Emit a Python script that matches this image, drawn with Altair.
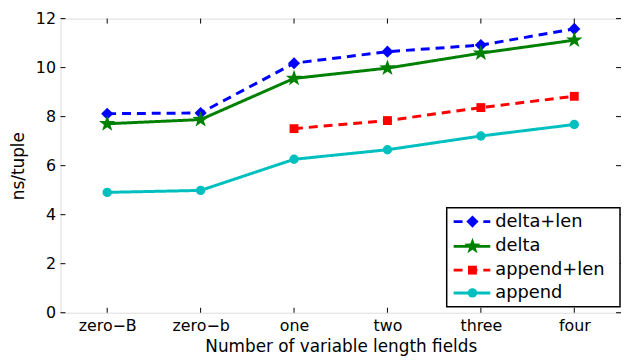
import math
import altair as alt
import pandas as pd

# ---- data ----
categories = ["zero\u2212B", "zero\u2212b", "one", "two", "three", "four"]
delta_len = [8.12, 8.15, 10.18, 10.65, 10.92, 11.58]
delta = [7.71, 7.88, 9.56, 9.98, 10.59, 11.12]
append_len = [None, None, 7.51, 7.84, 8.37, 8.83]
append_ = [4.91, 4.99, 6.26, 6.65, 7.21, 7.68]
series_names = ["delta+len", "delta", "append+len", "append"]
series_values = [delta_len, delta, append_len, append_]
y_ticks = [0, 2, 4, 6, 8, 10, 12]

# ---- styles ----
W, H = 566, 297
FONT = "DejaVu Sans"

pts = []
for i in range(10):
    r = 1.0 if i % 2 == 0 else 0.4
    a = math.radians(-90 + 36 * i)
    pts.append(f"{r * math.cos(a):.3f},{r * math.sin(a):.3f}")
STAR = "M" + " L".join(pts) + " Z"

styles = {
    "delta+len": dict(color="#0000ff", dash=[9, 6], shape="diamond", size=150),
    "delta": dict(color="#008000", dash=[1, 0], shape=STAR, size=300),
    "append+len": dict(color="#ff0000", dash=[9, 6], shape="square", size=80),
    "append": dict(color="#00bfbf", dash=[1, 0], shape="circle", size=90),
}

rows = []
for name, vals in zip(series_names, series_values):
    for c, v in zip(categories, vals):
        if v is not None:
            rows.append({"cat": c, "val": v, "series": name})
df = pd.DataFrame(rows)

xscale = alt.Scale(type="point", domain=categories, padding=0.5)
yscale = alt.Scale(domain=[0, 12], nice=False, zero=True)

X = alt.X("cat:N", scale=xscale, sort=categories,
          axis=alt.Axis(title="Number of variable length fields", labelAngle=0,
                        ticks=False, tickSize=0, domain=False, grid=False,
                        labelPadding=5, labelFontSize=16, labelFont=FONT,
                        labelColor="black", titleFont=FONT, titleFontSize=17,
                        titleFontWeight="normal", titleColor="black",
                        titleX=W / 2, titleY=39, titleBaseline="alphabetic"))
Y = alt.Y("val:Q", scale=yscale,
          axis=alt.Axis(title="ns/tuple", values=y_ticks, ticks=False, tickSize=0,
                        domain=False, grid=False, labelPadding=5,
                        labelFontSize=16, labelFont=FONT, labelColor="black",
                        titleFont=FONT, titleFontSize=17, titleFontWeight="normal",
                        titleColor="black", titleX=-42, titleY=H / 2,
                        titleBaseline="middle"))

base = alt.Chart(df)
layers = []
for name in series_names:
    st = styles[name]
    sub = base.transform_filter(alt.datum.series == name)
    layers.append(sub.mark_line(color=st["color"], strokeWidth=3,
                                strokeDash=st["dash"]).encode(x=X, y=Y))
    layers.append(sub.mark_point(shape=st["shape"], size=st["size"], filled=True,
                                 color=st["color"], opacity=1).encode(x=X, y=Y))

# inward ticks on all four sides
xt = alt.Chart(pd.DataFrame({"cat": categories}))
layers.append(xt.mark_rule(color="black", strokeWidth=1).encode(
    x=alt.X("cat:N", scale=xscale, sort=categories), y=alt.value(H), y2=alt.value(H - 5)))
layers.append(xt.mark_rule(color="black", strokeWidth=1).encode(
    x=alt.X("cat:N", scale=xscale, sort=categories), y=alt.value(0), y2=alt.value(5)))
yt = alt.Chart(pd.DataFrame({"val": y_ticks}))
layers.append(yt.mark_rule(color="black", strokeWidth=1).encode(
    y=alt.Y("val:Q", scale=yscale), x=alt.value(0), x2=alt.value(5)))
layers.append(yt.mark_rule(color="black", strokeWidth=1).encode(
    y=alt.Y("val:Q", scale=yscale), x=alt.value(W - 5), x2=alt.value(W)))

# legend
one = alt.Chart(pd.DataFrame({"k": [0]}))
LX0, LX1, LY0, LY1 = 390, 565, 191, 291
layers.append(one.mark_rect(fill="white", stroke="black", strokeWidth=1.5).encode(
    x=alt.value(LX0), x2=alt.value(LX1), y=alt.value(LY0), y2=alt.value(LY1)))
row_y = [205, 230, 254, 277]
for name, ry in zip(series_names, row_y):
    st = styles[name]
    layers.append(one.mark_rule(color=st["color"], strokeWidth=3,
                                strokeDash=st["dash"]).encode(
        x=alt.value(397), x2=alt.value(434), y=alt.value(ry)))
    layers.append(one.mark_point(shape=st["shape"], size=st["size"], filled=True,
                                 color=st["color"], opacity=1).encode(
        x=alt.value(416), y=alt.value(ry)))
    layers.append(one.mark_text(text=name, font=FONT, fontSize=18, color="black",
                                align="left", baseline="middle").encode(
        x=alt.value(439), y=alt.value(ry)))

chart = alt.layer(*layers).properties(
    width=W, height=H,
    autosize=alt.AutoSizeParams(type="none"),
    padding={"left": 53, "top": 9, "right": 0, "bottom": 42},
).configure_view(stroke="black", strokeWidth=1.5).configure(background="white")

chart.save("out.html", embed_options={"renderer": "svg", "actions": False})
